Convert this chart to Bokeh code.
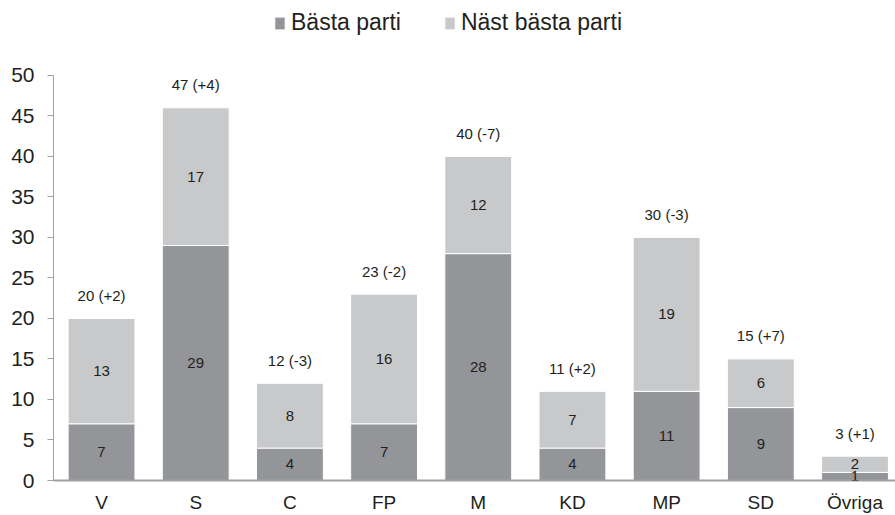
from bokeh.plotting import figure
from bokeh.models import ColumnDataSource, Range1d, FixedTicker, Legend, LegendItem, LabelSet
from bokeh.core.properties import value
from bokeh.embed import file_html
from bokeh.resources import INLINE

categories = ["V", "S", "C", "FP", "M", "KD", "MP", "SD", "Övriga"]
basta_parti = [7, 29, 4, 7, 28, 4, 11, 9, 1]
nast_basta_parti = [13, 17, 8, 16, 12, 7, 19, 6, 2]
totals = [20, 47, 12, 23, 40, 11, 30, 15, 3]
changes = ["+2", "+4", "-3", "-2", "-7", "+2", "-3", "+7", "+1"]
y_ticks = [0, 5, 10, 15, 20, 25, 30, 35, 40, 45, 50]

DARK = "#939598"
LIGHT = "#c8c9cb"
TXT = "#231f20"
FONT = "Liberation Sans"

xs = list(range(len(categories)))
tops = [a + b for a, b in zip(basta_parti, nast_basta_parti)]
src = ColumnDataSource(dict(
    x=xs,
    basta=basta_parti,
    nast=nast_basta_parti,
    top=tops,
    mid_b=[a / 2 for a in basta_parti],
    mid_n=[a + b / 2 for a, b in zip(basta_parti, nast_basta_parti)],
    lab_b=[str(v) for v in basta_parti],
    lab_n=[str(v) for v in nast_basta_parti],
    lab_t=[f"{t} ({c})" for t, c in zip(totals, changes)],
))

# frame reaches the top of the canvas; the y axis is bounded to 0..50
p = figure(width=895, height=515, output_backend="svg", toolbar_location=None,
           x_range=Range1d(-0.51, 8.43), y_range=Range1d(0, 59.24),
           min_border_left=53, min_border_right=0, min_border_top=0, min_border_bottom=34)
p.outline_line_color = None
p.grid.grid_line_color = None
p.background_fill_color = "white"

rs = p.vbar_stack(["basta", "nast"], x="x", width=0.71, source=src,
                  color=[DARK, LIGHT], line_color="white", line_width=1)

for col_y, col_t in [("mid_b", "lab_b"), ("mid_n", "lab_n")]:
    p.add_layout(LabelSet(x="x", y=col_y, text=col_t, source=src, text_align="center",
                          text_baseline="middle", text_font=value(FONT), text_font_size="15px",
                          text_color=TXT))
p.add_layout(LabelSet(x="x", y="top", text="lab_t", source=src, text_align="center",
                      text_baseline="middle", y_offset=23, text_font=value(FONT),
                      text_font_size="15px", text_color=TXT))

# axes
p.yaxis.ticker = FixedTicker(ticks=y_ticks)
p.yaxis.bounds = (0, 50)
p.yaxis.minor_tick_line_color = None
p.yaxis.major_tick_out = 6
p.yaxis.major_tick_in = 0
p.yaxis.major_label_standoff = 13
p.yaxis.major_label_text_font = FONT
p.yaxis.major_label_text_font_size = "21px"
p.yaxis.major_label_text_color = TXT
p.yaxis.axis_line_color = "#a0a0a0"
p.yaxis.major_tick_line_color = "#a0a0a0"

p.xaxis.ticker = FixedTicker(ticks=xs)
p.xaxis.major_label_overrides = {i: c for i, c in enumerate(categories)}
p.xaxis.minor_tick_line_color = None
p.xaxis.major_tick_line_color = None
p.xaxis.major_tick_out = 0
p.xaxis.major_tick_in = 0
p.xaxis.major_label_standoff = 11
p.xaxis.major_label_text_font = FONT
p.xaxis.major_label_text_font_size = "19px"
p.xaxis.major_label_text_color = TXT
p.xaxis.axis_line_color = "#a0a0a0"
p.xaxis.axis_line_width = 2

legend = Legend(items=[LegendItem(label="Bästa parti", renderers=[rs[0]]),
                       LegendItem(label="Näst bästa parti", renderers=[rs[1]])],
                orientation="horizontal", location=(220, 444),
                padding=0, margin=0, spacing=42, label_standoff=5,
                glyph_width=13, glyph_height=16,
                label_text_font=FONT, label_text_font_size="23px", label_text_color=TXT,
                border_line_color=None, background_fill_alpha=0)
p.add_layout(legend, "center")

open("out.html", "w").write(file_html(p, INLINE))
